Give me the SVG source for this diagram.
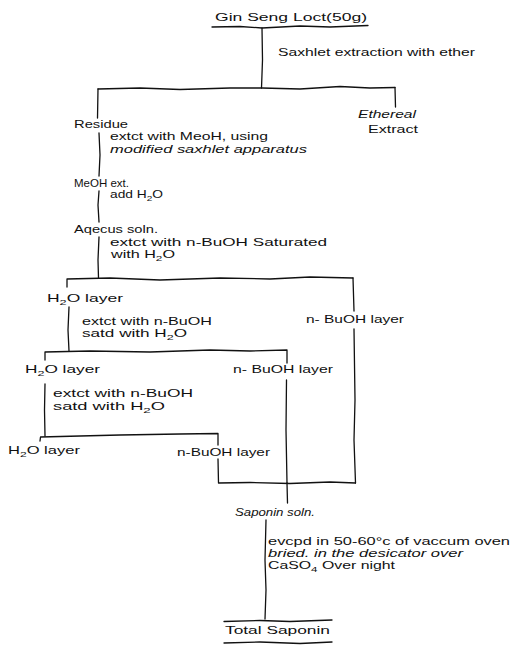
<svg xmlns="http://www.w3.org/2000/svg" width="512" height="646" viewBox="0 0 512 646">
  <style>
    .t { font-family: "Liberation Sans", Arial, sans-serif; font-size: 11px; fill: #111; }
    .i { font-style: italic; }
    .s { font-size: 8px; }
    .ln { fill: none; stroke: #111; stroke-width: 1.3; stroke-linecap: round; stroke-linejoin: round; }
  </style>
  <rect width="512" height="646" fill="#fff"/>

  <g id="connectors">
    <path class="ln" d="M212,27 L240,26.5 L262,28 L300,26 L330,27 L368,25.5"/>
    <path class="ln" d="M262,28 L262.5,60 L261.5,88"/>
    <path class="ln" d="M98,89 L140,88 L180,89.5 L230,88 L262,88 L300,89 L340,86.5 L370,88 L395,87.5"/>
    <path class="ln" d="M98,89 L97.5,118"/>
    <path class="ln" d="M395,87.5 L395.5,107"/>
    <path class="ln" d="M99,133 L100,155 L99,176"/>
    <path class="ln" d="M99,191 L98,205 L99,222"/>
    <path class="ln" d="M99,237 L98,260 L98.5,278"/>
    <path class="ln" d="M67,287 L67,279 L110,278 L160,280 L220,278 L270,279 L310,277 L353,278"/>
    <path class="ln" d="M353,278 L354,311"/>
    <path class="ln" d="M354,329 L355,400 L354,440 L355.5,483"/>
    <path class="ln" d="M69,307 L68,330 L69,351"/>
    <path class="ln" d="M45,360 L45,352 L90,351 L150,352 L210,350 L250,351 L287,350 L287,363"/>
    <path class="ln" d="M286.5,380 L286,430 L287,483"/>
    <path class="ln" d="M45,384 L44.5,410 L45,436"/>
    <path class="ln" d="M40,441 L40.5,437 L80,436 L120,435 L180,434 L218,433.5 L218,445"/>
    <path class="ln" d="M218,459 L218.5,483 L250,482.5 L290,483.5 L330,482 L355.5,483"/>
    <path class="ln" d="M287,483 L287.5,503"/>
    <path class="ln" d="M266,520 L265,560 L266,590 L265,619"/>
    <path class="ln" d="M224,621.5 L260,620.5 L290,621.5 L332,620"/>
    <path class="ln" d="M224,643 L260,642 L300,643.5 L332,642"/>
  </g>

  <g id="gin-seng-root">
    <text class="t" x="215" y="21" textLength="152" lengthAdjust="spacingAndGlyphs">Gin Seng Loct(50g)</text>
  </g>
  <g id="label-soxhlet">
    <text class="t" x="278" y="56" textLength="197" lengthAdjust="spacingAndGlyphs">Saxhlet extraction with ether</text>
  </g>
  <g id="ethereal-extract">
    <text class="t i" x="358" y="118" textLength="58" lengthAdjust="spacingAndGlyphs">Ethereal</text>
    <text class="t" x="368" y="133" textLength="50" lengthAdjust="spacingAndGlyphs">Extract</text>
  </g>
  <g id="residue">
    <text class="t" x="74" y="128" textLength="54" lengthAdjust="spacingAndGlyphs">Residue</text>
  </g>
  <g id="label-meoh">
    <text class="t" x="110" y="140" textLength="158" lengthAdjust="spacingAndGlyphs">extct with MeoH, using</text>
    <text class="t i" x="110" y="153" textLength="197" lengthAdjust="spacingAndGlyphs">modified saxhlet apparatus</text>
  </g>
  <g id="meoh-ext">
    <text class="t" x="74" y="187" textLength="55" lengthAdjust="spacingAndGlyphs">MeOH ext.</text>
  </g>
  <g id="label-add-h2o">
    <text class="t" x="110" y="198" textLength="53" lengthAdjust="spacingAndGlyphs">add H<tspan class="s" dy="3">2</tspan><tspan dy="-3">O</tspan></text>
  </g>
  <g id="aqecus-soln">
    <text class="t" x="74" y="233" textLength="84" lengthAdjust="spacingAndGlyphs">Aqecus soln.</text>
  </g>
  <g id="label-buoh-1">
    <text class="t" x="110" y="246" textLength="217" lengthAdjust="spacingAndGlyphs">extct with n-BuOH Saturated</text>
    <text class="t" x="111" y="258" textLength="64" lengthAdjust="spacingAndGlyphs">with H<tspan class="s" dy="3">2</tspan><tspan dy="-3">O</tspan></text>
  </g>
  <g id="h2o-layer-1">
    <text class="t" x="47" y="302" textLength="76" lengthAdjust="spacingAndGlyphs">H<tspan class="s" dy="3">2</tspan><tspan dy="-3">O layer</tspan></text>
  </g>
  <g id="buoh-layer-1">
    <text class="t" x="306" y="323" textLength="98" lengthAdjust="spacingAndGlyphs">n- BuOH layer</text>
  </g>
  <g id="label-buoh-2">
    <text class="t" x="82" y="325" textLength="130" lengthAdjust="spacingAndGlyphs">extct with n-BuOH</text>
    <text class="t" x="82" y="337" textLength="105" lengthAdjust="spacingAndGlyphs">satd with H<tspan class="s" dy="3">2</tspan><tspan dy="-3">O</tspan></text>
  </g>
  <g id="h2o-layer-2">
    <text class="t" x="25" y="373" textLength="75" lengthAdjust="spacingAndGlyphs">H<tspan class="s" dy="3">2</tspan><tspan dy="-3">O layer</tspan></text>
  </g>
  <g id="buoh-layer-2">
    <text class="t" x="233" y="373" textLength="100" lengthAdjust="spacingAndGlyphs">n- BuOH layer</text>
  </g>
  <g id="label-buoh-3">
    <text class="t" x="53" y="397" textLength="140" lengthAdjust="spacingAndGlyphs">extct with n-BuOH</text>
    <text class="t" x="53" y="410" textLength="112" lengthAdjust="spacingAndGlyphs">satd with H<tspan class="s" dy="3">2</tspan><tspan dy="-3">O</tspan></text>
  </g>
  <g id="h2o-layer-3">
    <text class="t" x="8" y="454" textLength="72" lengthAdjust="spacingAndGlyphs">H<tspan class="s" dy="3">2</tspan><tspan dy="-3">O layer</tspan></text>
  </g>
  <g id="buoh-layer-3">
    <text class="t" x="177" y="456" textLength="93" lengthAdjust="spacingAndGlyphs">n-BuOH layer</text>
  </g>
  <g id="saponin-soln">
    <text class="t i" x="235" y="516" textLength="80" lengthAdjust="spacingAndGlyphs">Saponin soln.</text>
  </g>
  <g id="label-evaporation">
    <text class="t" x="268" y="545" textLength="242" lengthAdjust="spacingAndGlyphs">evcpd in 50-60°c of vaccum oven</text>
    <text class="t i" x="268" y="557" textLength="195" lengthAdjust="spacingAndGlyphs">bried. in the desicator over</text>
    <text class="t" x="268" y="569" textLength="127" lengthAdjust="spacingAndGlyphs">CaSO<tspan class="s" dy="3">4</tspan><tspan dy="-3"> Over night</tspan></text>
  </g>
  <g id="total-saponin">
    <text class="t" x="225" y="634" textLength="105" lengthAdjust="spacingAndGlyphs">Total Saponin</text>
  </g>
</svg>
